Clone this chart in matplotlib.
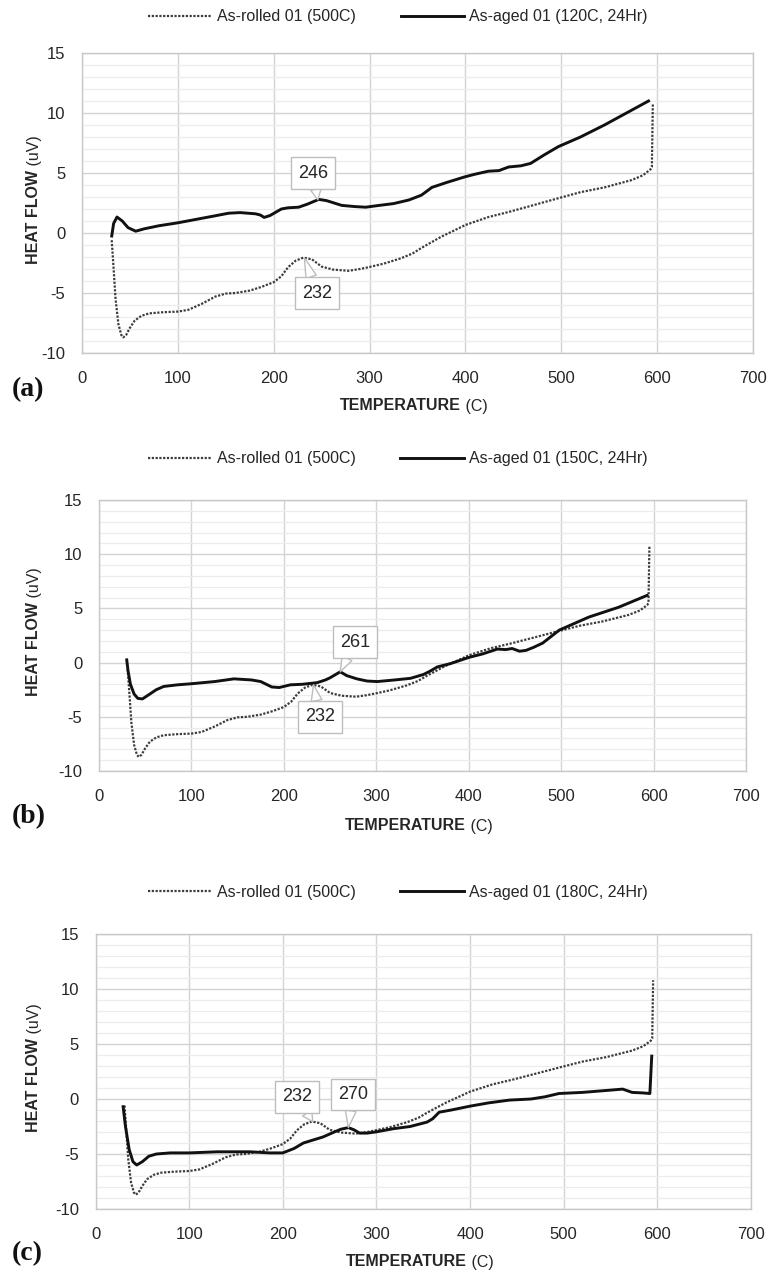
import numpy as np
import matplotlib
matplotlib.use('Agg')
import matplotlib.pyplot as plt

plt.rcParams['font.family'] = ['Liberation Sans', 'DejaVu Sans']
plt.rcParams['axes.unicode_minus'] = False

# As-rolled 01 (500C) trace, the same reference run in every panel
rolled_T = [31, 33, 35, 38, 41, 43, 46, 50, 55, 62, 70, 85, 100, 111, 125, 139, 150, 160,
            175, 187, 200, 208, 215, 223, 231, 240, 250, 262, 278, 290, 299, 315, 333,
            345, 354, 365, 375, 388, 400, 412, 424, 435, 445, 470, 497, 520, 545, 573,
            585, 593, 594.5, 595.5]
rolled_hf = [-0.6, -3.0, -5.5, -7.6, -8.5, -8.7, -8.5, -7.9, -7.3, -6.9, -6.7, -6.6, -6.55,
             -6.4, -5.9, -5.3, -5.05, -5.0, -4.8, -4.5, -4.1, -3.6, -2.85, -2.3, -2.05,
             -2.2, -2.8, -3.05, -3.15, -3.0, -2.85, -2.55, -2.1, -1.7, -1.25, -0.75, -0.3,
             0.2, 0.67, 1.0, 1.33, 1.55, 1.75, 2.3, 2.9, 3.4, 3.8, 4.4, 4.8, 5.3, 5.5, 10.8]

# As-aged 01 (120C, 24Hr)
aged120_T = [31, 33, 36.5, 42, 48, 56, 65, 80, 100, 120, 140, 153, 165, 181, 186, 190, 196,
             208, 215, 226, 235, 247, 255, 263, 271, 285, 296, 310, 325, 341, 354, 360,
             365, 380, 399, 410, 424, 435, 445, 458, 468, 482, 497, 520, 545, 568, 591]
aged120_hf = [-0.25, 0.8, 1.33, 1.0, 0.45, 0.15, 0.35, 0.6, 0.85, 1.15, 1.45, 1.65, 1.7,
              1.6, 1.5, 1.3, 1.45, 2.0, 2.1, 2.15, 2.4, 2.8, 2.7, 2.5, 2.3, 2.2, 2.15, 2.3,
              2.45, 2.75, 3.15, 3.5, 3.8, 4.2, 4.67, 4.9, 5.15, 5.2, 5.5, 5.6, 5.8, 6.5,
              7.2, 8.0, 9.0, 10.0, 11.0]

# As-aged 01 (150C, 24Hr)
aged150_T = [30, 31.5, 34, 38, 42, 47, 55, 62, 70, 85, 100, 125, 146, 165, 175, 181, 187,
             195, 207, 220, 236, 245, 250, 256, 261, 268, 279, 290, 301, 320, 337, 351,
             358, 366, 380, 401, 415, 431, 440, 447, 455, 462, 470, 480, 498, 530, 562, 593]
aged150_hf = [0.25, -0.8, -2.0, -2.9, -3.3, -3.35, -2.9, -2.5, -2.2, -2.05, -1.95, -1.75,
              -1.5, -1.6, -1.75, -2.0, -2.25, -2.3, -2.05, -2.0, -1.85, -1.6, -1.4, -1.1,
              -0.85, -1.2, -1.5, -1.7, -1.75, -1.6, -1.45, -1.1, -0.8, -0.4, -0.1, 0.5, 0.8,
              1.25, 1.2, 1.3, 1.05, 1.13, 1.4, 1.8, 3.0, 4.2, 5.1, 6.2]

# As-aged 01 (180C, 24Hr)
aged180_T = [29.5, 32, 36, 40, 44, 50, 57, 65, 80, 100, 130, 165, 186, 200, 212, 222, 243,
             255, 262, 270, 276, 282, 290, 299, 318, 336, 354, 360, 367, 380, 400, 420,
             442, 465, 480, 495, 520, 549, 563, 573, 585, 592, 594]
aged180_hf = [-0.7, -2.5, -4.6, -5.7, -6.0, -5.7, -5.2, -5.0, -4.9, -4.9, -4.8, -4.8, -4.9,
              -4.9, -4.5, -4.0, -3.45, -3.0, -2.75, -2.6, -2.8, -3.1, -3.1, -3.0, -2.7,
              -2.5, -2.1, -1.8, -1.2, -1.0, -0.65, -0.35, -0.1, 0.0, 0.2, 0.5, 0.6, 0.8,
              0.9, 0.6, 0.55, 0.5, 3.9]

rolled_label = 'As-rolled 01 (500C)'
aged_labels = ['As-aged 01 (120C, 24Hr)', 'As-aged 01 (150C, 24Hr)', 'As-aged 01 (180C, 24Hr)']
aged_T = [aged120_T, aged150_T, aged180_T]
aged_hf = [aged120_hf, aged150_hf, aged180_hf]
panel_tags = ['(a)', '(b)', '(c)']

# peak temperatures called out in each panel: (trace, temperature)
peaks = [[('aged', 246), ('rolled', 232)],
         [('aged', 261), ('rolled', 232)],
         [('rolled', 232), ('aged', 270)]]
# where each callout box sits (data coords)
callout_xy = [[(241, 5.0), (245, -5.0)],
              [(277, 1.9), (239, -5.0)],
              [(215, 0.2), (275, 0.4)]]

xticks = np.arange(0, 701, 100)
yticks = np.arange(-10, 16, 5)

W, H = 770, 1279
fig = plt.figure(figsize=(W / 100, H / 100), dpi=100)

# axes boxes in pixels: left, right, top, bottom
boxes = [(82, 753, 53, 353), (99, 746, 500, 771), (95.5, 751, 934, 1209)]
legend_y = [17, 459, 892]
tag_y = [390, 817, 1254]
xlabel_y = [406, 826, 1262]

txt_col = '#262626'
grid_major = '#d4d4d4'
grid_minor = '#ececec'

for i in range(3):
    l, r, t, b = boxes[i]
    ax = fig.add_axes([l / W, 1 - b / H, (r - l) / W, (b - t) / H])
    ax.set_xlim(0, 700)
    ax.set_ylim(-10, 15)
    ax.set_xticks(xticks)
    ax.set_yticks(yticks)
    ax.set_yticks(np.arange(-10, 16, 1), minor=True)
    ax.grid(True, which='major', color=grid_major, lw=1.0)
    ax.grid(True, which='minor', axis='y', color=grid_minor, lw=0.9)
    ax.set_axisbelow(True)
    for s in ax.spines.values():
        s.set_color('#c8c8c8')
        s.set_linewidth(1.0)
    ax.tick_params(which='both', length=0, labelsize=12, colors=txt_col)
    ax.tick_params(axis='x', pad=13)
    ax.tick_params(axis='y', pad=12)

    l1, = ax.plot(rolled_T, rolled_hf, color='#3c3c3c', lw=1.6, ls=(0, (1, 0.7)),
                  label=rolled_label, zorder=3)
    l2, = ax.plot(aged_T[i], aged_hf[i], color='#111111', lw=2.1,
                  label=aged_labels[i], zorder=4)

    for (trace, temp), (cx, cy) in zip(peaks[i], callout_xy[i]):
        if trace == 'rolled':
            py = np.interp(temp, rolled_T, rolled_hf)
        else:
            py = np.interp(temp, aged_T[i], aged_hf[i])
        ax.annotate(str(temp), xy=(temp, py), xytext=(cx, cy), ha='center', va='center',
                    fontsize=13, color=txt_col, zorder=6,
                    bbox=dict(boxstyle='square,pad=0.4', fc='white', ec='#bdbdbd', lw=1),
                    arrowprops=dict(arrowstyle='wedge,tail_width=0.6,shrink_factor=0.5',
                                    fc='white', ec='#bdbdbd', lw=1, shrinkA=0, shrinkB=0))

    fig.legend(handles=[l1, l2], loc='center', bbox_to_anchor=(398 / W, 1 - legend_y[i] / H),
               ncol=2, frameon=False, fontsize=11.5, handlelength=4.0, handletextpad=0.3,
               columnspacing=2.8, labelcolor=txt_col)

    # axis titles: bold name plus plain unit
    xl = fig.text((l + r) / 2 / W - 0.022, 1 - xlabel_y[i] / H, 'TEMPERATURE', ha='center',
                  va='center', fontsize=11.5, fontweight='bold', color=txt_col)
    ax.annotate(' (C)', xy=(1, 0), xycoords=xl, va='bottom', ha='left', fontsize=11.5,
                color=txt_col, annotation_clip=False)
    yl = fig.text(34 / W, 1 - ((t + b) / 2 + 14) / H, 'HEAT FLOW', rotation=90, ha='center',
                  va='center', fontsize=11.5, fontweight='bold', color=txt_col)
    ax.annotate(' (uV)', xy=(0.5, 1), xycoords=yl, rotation=90, ha='center', va='bottom',
                fontsize=11.5, color=txt_col, annotation_clip=False)

    fig.text(12 / W, 1 - tag_y[i] / H, panel_tags[i], ha='left', va='center', fontsize=20,
             fontweight='bold', family='Liberation Serif', color='#111111')

fig.savefig('out.png', dpi=100, facecolor='white')
